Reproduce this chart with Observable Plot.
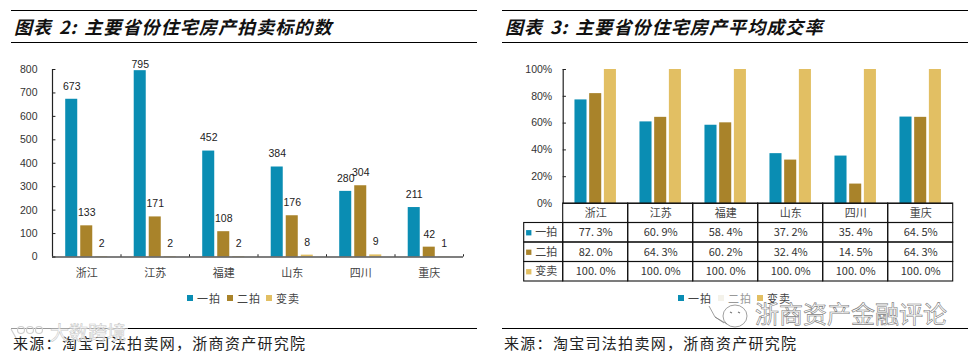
<!DOCTYPE html>
<html><head><meta charset="utf-8">
<script src="https://cdn.jsdelivr.net/npm/d3@7"></script>
<script src="https://cdn.jsdelivr.net/npm/@observablehq/plot@0.6"></script>
<style>
html,body{margin:0;padding:0;background:#fff;}
#page{position:relative;width:977px;height:355px;overflow:hidden;font-family:"Noto Sans CJK SC",sans-serif;color:#111;}
.abs{position:absolute;white-space:nowrap;}
.rule{position:absolute;height:1px;background:#000;}
.title{font-size:18px;font-weight:700;font-style:italic;letter-spacing:1.1px;word-spacing:1.5px;line-height:26px;top:13px;}
.source{font-size:15px;letter-spacing:1.3px;line-height:20px;top:333px;color:#222;}
.legend{font-size:11px;letter-spacing:1px;line-height:14px;top:291px;color:#444;}
.sw{position:absolute;width:6px;height:6px;top:295px;}
.plot{position:absolute;left:0;top:0;}
.mark{font-size:24px;line-height:24px;color:#fff;-webkit-text-stroke:.6px #7d7d7d;top:301px;left:755px;}
.mark2{font-size:19px;line-height:19px;color:rgba(255,255,255,.75);-webkit-text-stroke:.6px #c9c9c9;top:322px;left:50px;}
</style></head><body><div id="page"></div>
<script>
const provinces = ["浙江","江苏","福建","山东","四川","重庆"];
const seriesNames = ["一拍","二拍","变卖"];
const colors = ["#0a8db3","#a9832a","#e2bf63"];
const counts1 = [673,795,452,384,280,211];
const counts2 = [133,171,108,176,304,42];
const counts3 = [2,2,2,8,9,1];
const rate1 = [77.3,60.9,58.4,37.2,35.4,64.5];
const rate2 = [82.0,64.3,60.2,32.4,14.5,64.3];
const rate3 = [100,100,100,100,100,100];
const countTicks = [0,100,200,300,400,500,600,700,800];
const rateTicks = [0,20,40,60,80,100];

const page = document.getElementById("page");
const W = 977, H = 355;
const longForm = arr => arr.flatMap((vals,s)=>vals.map((v,i)=>({province:provinces[i],series:seriesNames[s],value:v})));
const countData = longForm([counts1,counts2,counts3]);
const rateData = longForm([rate1,rate2,rate3]);
const numFont = '"Liberation Sans",Arial,sans-serif';
const cjk = '"Noto Sans CJK SC",sans-serif';

function add(cls, text, style){const d=document.createElement("div");d.className=cls;d.textContent=text||"";Object.assign(d.style,style||{});page.appendChild(d);return d;}

// rules + headings
[[11,466],[502,466]].forEach(([l,w])=>[10,42,328].forEach(t=>add("rule","",{left:l+"px",width:w+"px",top:t+"px"})));
add("abs title","图表 2: 主要省份住宅房产拍卖标的数",{left:"14px"});
add("abs title","图表 3: 主要省份住宅房产平均成交率",{left:"505px"});
add("abs source","来源：淘宝司法拍卖网，浙商资产研究院",{left:"13px"});
add("abs source","来源：淘宝司法拍卖网，浙商资产研究院",{left:"504px"});

const bars = {x:"series", y:"value", fx:"province", fill:"series"};
const place = {x:"series", y:"value", fx:"province"};
const common = {
  width:W, height:H, style:{background:"transparent",overflow:"visible"},
  color:{domain:seriesNames,range:colors},
};
const labelStyle = {text:"value",fontSize:10.5,fontFamily:numFont,fill:"#222"};

// left chart
const left = Plot.plot({
  ...common,
  marginLeft:52, marginRight:W-463, marginTop:69, marginBottom:H-256.5,
  fx:{domain:provinces,padding:0,round:false,label:null},
  x:{domain:seriesNames,paddingInner:0.2,paddingOuter:0.88,round:false,axis:null},
  y:{domain:[0,800],label:null},
  marks:[
    Plot.barY(countData,bars),
    Plot.axisY({ticks:countTicks,tickSize:0,tickPadding:15,anchor:"left",fontSize:10.5,fontFamily:numFont,fill:"#333",label:null}),
    Plot.axisFx({anchor:"bottom",tickSize:0,tickPadding:12,fontSize:11,fontFamily:cjk,fill:"#444",label:null}),
    Plot.text(countData.filter(d=>d.value!==795),{...place,...labelStyle,dy:-13}),
    Plot.text(countData.filter(d=>d.value===795),{...place,...labelStyle,dy:-6}),
  ]
});
left.classList.add("plot"); page.appendChild(left);

// right chart
const right = Plot.plot({
  ...common,
  marginLeft:562.7, marginRight:W-952.7, marginTop:69, marginBottom:H-203,
  fx:{domain:provinces,padding:0,round:false,axis:null,label:null},
  x:{domain:seriesNames,paddingInner:0.18,paddingOuter:0.8,round:false,axis:null},
  y:{domain:[0,100],label:null},
  marks:[
    Plot.barY(rateData,bars),
    Plot.axisY({ticks:rateTicks,tickSize:0,tickPadding:11,anchor:"left",tickFormat:d=>d+"%",fontSize:10.5,fontFamily:numFont,fill:"#333",label:null}),
  ]
});
right.classList.add("plot"); page.appendChild(right);

// axis lines and ticks overlay (through the same y scale)
function axisOverlay(yDomain, ticks, mL, mR, mT, mB, xAxisColor, xAxisWidth, boundaries){
  const n = provinces.length;
  const edges = d3.range(1,n+1);
  const p = Plot.plot({
    width:W,height:H,marginLeft:mL,marginRight:mR,marginTop:mT,marginBottom:mB,
    style:{background:"transparent",overflow:"visible"},
    x:{type:"linear",domain:[0,n],axis:null},
    y:{type:"linear",domain:yDomain,axis:null},
    marks:[
      Plot.ruleX([0],{stroke:"#222",strokeWidth:1.2}),
      Plot.ruleY([yDomain[0]],{stroke:xAxisColor,strokeWidth:xAxisWidth}),
      Plot.ruleY(ticks,{x1:0,x2:0.05,stroke:"#222",strokeWidth:1}),
      ...(boundaries?[Plot.ruleX(edges,{y1:yDomain[0],y2:yDomain[1]*0.012,stroke:"#222",strokeWidth:1})]:[])
    ]
  });
  p.classList.add("plot"); page.appendChild(p); return p;
}
axisOverlay([0,800],countTicks,52,W-463,69,H-256.5,"#555",1.6,true);
axisOverlay([0,100],rateTicks,562.7,W-952.7,69,H-203,"#222",1,false);

// table
const rowNames = ["hdr",...seriesNames];
const rateRows = [rate1,rate2,rate3];
const cells = rowNames.flatMap(r=>[-1,...provinces.map((_,i)=>i)].filter(i=>!(r==="hdr"&&i<0)).map(i=>({r,i})));
const labels = rateRows.flatMap((vals,s)=>vals.map((v,i)=>({r:seriesNames[s],i,t:v.toFixed(1).replace(".",". ")+"%"})));
const table = Plot.plot({
  width:W,height:H,marginLeft:523.7,marginRight:W-952.7,marginTop:203,marginBottom:H-281,
  style:{background:"transparent",overflow:"visible"},
  x:{type:"linear",domain:[-0.6,6],axis:null},
  y:{type:"band",domain:rowNames,padding:0,round:false,axis:null},
  color:{domain:seriesNames,range:colors},
  marks:[
    Plot.rect(cells,{x1:d=>d.i<0?-0.6:d.i, x2:d=>d.i<0?0:d.i+1, y:"r", fill:"none", stroke:"#111", strokeWidth:1.1}),
    Plot.text(provinces,{x:(d,i)=>i+0.5,y:()=>"hdr",text:d=>d,fontSize:11,fontFamily:cjk,fill:"#444"}),
    Plot.text(labels,{x:d=>d.i+0.5,y:"r",text:"t",fontSize:11,fontFamily:cjk,fill:"#333"}),
    Plot.dot(seriesNames,{x:()=>-0.53,y:d=>d,fill:d=>d,symbol:"square",r:3}),
    Plot.text(seriesNames,{x:()=>-0.26,y:d=>d,text:d=>d,fontSize:11,fontFamily:cjk,fill:"#444"}),
  ]
});
table.classList.add("plot"); page.appendChild(table);

// legends
[[190,230,269],[681,721,760]].forEach((xs,c)=>xs.forEach((x,i)=>{
  const faded = c===1&&i===1;
  add("sw","",{left:x-3+"px",background:faded?"#f4f2ea":colors[i]});
  add("abs legend",seriesNames[i],{left:x+7+"px",color:faded?"#999":"#444"});
}));

// watermarks
add("abs mark","浙商资产金融评论");
add("abs","",{left:"11px",top:"327px",width:"117px",height:"3px",background:"rgba(255,255,255,.6)"});
add("abs mark2","大数跨境");
const icon = document.createElement("div");
icon.className="abs";
icon.style.cssText="left:705px;top:298px;";
icon.innerHTML='<svg width="50" height="36" fill="none" stroke="#777" stroke-width=".7"><ellipse cx="30" cy="18" rx="12" ry="11"/><path d="M22 26 L10 19 L4 8 M10 19 L19 25"/><path d="M25 14l2 1M33 14l2 1" stroke-width="1.2"/></svg>';
page.appendChild(icon);
const logo = document.createElement("div");
logo.className="abs";
logo.style.cssText="left:8px;top:321px;";
logo.innerHTML='<svg width="38" height="16" fill="none" stroke="#cfcfcf" stroke-width="1.2"><circle cx="13" cy="6" r="3.5"/><circle cx="22" cy="6" r="3.5"/><circle cx="31" cy="6" r="3.5"/><path d="M3 5 L8 14"/></svg>';
page.appendChild(logo);
</script></body></html>
